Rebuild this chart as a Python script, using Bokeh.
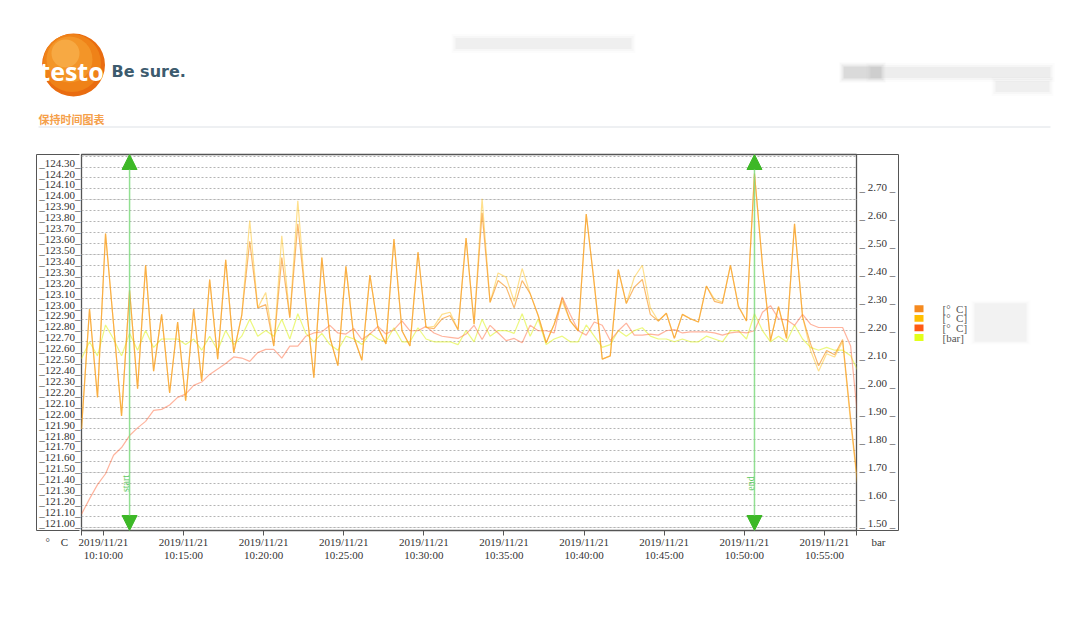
import math
import pandas as pd
from bokeh.plotting import figure
from bokeh.models import (Range1d, LinearAxis, FixedTicker, CustomJSTickFormatter, Grid,
                          Arrow, NormalHead, Label, ColumnDataSource)
from bokeh.layouts import column, row
from bokeh.embed import file_html
from bokeh.resources import INLINE
from bokeh.core.properties import value

# ---------------- data ----------------
times = pd.date_range("2019-11-21 10:08:38", periods=98, freq="30s")

temp_1 = [121.90, 123.00, 122.19, 123.69, 122.86, 122.02, 123.17, 122.27, 123.40, 122.43,
          122.95, 122.23, 122.88, 122.16, 123.00, 122.34, 123.27, 122.54, 123.45, 122.60,
          122.94, 123.62, 123.01, 123.04, 122.66, 123.47, 122.92, 123.78, 123.07, 122.37,
          123.47, 122.74, 122.48, 123.39, 122.74, 122.53, 123.31, 122.83, 122.68, 123.64,
          122.80, 122.66, 123.52, 122.83, 122.82, 122.91, 122.94, 122.81, 123.65, 122.86,
          123.88, 123.06, 123.26, 123.20, 123.01, 123.26, 123.14, 122.94, 122.69, 122.86,
          123.10, 122.89, 122.80, 123.87, 123.23, 122.54, 122.57, 123.36, 123.05, 123.20,
          123.27, 122.95, 122.89, 122.96, 122.73, 122.95, 122.91, 122.88, 123.21, 123.07,
          123.05, 123.40, 123.02, 122.89, 124.24, 123.40, 122.71, 123.02, 122.73, 123.78,
          122.93, 122.68, 122.48, 122.62, 122.58, 122.72, 122.00, 121.32]

temp_2 = [121.90, 123.00, 122.19, 123.69, 122.86, 122.02, 123.17, 122.27, 123.40, 122.43,
          122.95, 122.23, 122.88, 122.16, 123.00, 122.34, 123.27, 122.54, 123.45, 122.60,
          122.94, 123.81, 123.01, 123.15, 122.66, 123.67, 122.92, 123.99, 123.07, 122.37,
          123.47, 122.74, 122.48, 123.39, 122.74, 122.53, 123.31, 122.83, 122.68, 123.64,
          122.80, 122.66, 123.52, 122.83, 122.84, 122.95, 122.97, 122.81, 123.65, 122.86,
          124.01, 123.06, 123.33, 123.29, 123.07, 123.37, 123.14, 122.94, 122.69, 122.86,
          123.07, 122.89, 122.80, 123.87, 123.23, 122.54, 122.57, 123.36, 123.05, 123.29,
          123.40, 123.01, 122.89, 122.96, 122.73, 122.95, 122.91, 122.88, 123.21, 123.09,
          123.06, 123.40, 123.03, 122.89, 124.24, 123.40, 122.71, 123.02, 122.73, 123.78,
          122.93, 122.62, 122.43, 122.59, 122.56, 122.70, 121.96, 121.30]

temp_3 = [121.12, 121.26, 121.39, 121.49, 121.66, 121.73, 121.84, 121.91, 121.97, 122.07,
          122.08, 122.12, 122.19, 122.22, 122.30, 122.33, 122.40, 122.45, 122.50, 122.56,
          122.55, 122.52, 122.60, 122.63, 122.63, 122.55, 122.66, 122.66, 122.75, 122.78,
          122.79, 122.85, 122.78, 122.77, 122.82, 122.72, 122.77, 122.84, 122.77, 122.81,
          122.89, 122.80, 122.80, 122.84, 122.78, 122.75, 122.74, 122.73, 122.77, 122.85,
          122.72, 122.85, 122.78, 122.71, 122.73, 122.69, 122.85, 122.80, 122.80, 122.78,
          123.11, 122.95, 122.80, 122.76, 122.88, 122.85, 122.71, 122.80, 122.87, 122.76,
          122.76, 122.77, 122.76, 122.80, 122.81, 122.78, 122.79, 122.79, 122.79, 122.78,
          122.76, 122.78, 122.79, 122.78, 122.80, 122.97, 123.03, 122.91, 122.90, 122.85,
          122.95, 122.86, 122.83, 122.83, 122.83, 122.83, 122.66, 121.92]

pressure = [2.10, 2.16, 2.11, 2.22, 2.17, 2.11, 2.19, 2.13, 2.20, 2.14,
            2.17, 2.17, 2.17, 2.15, 2.17, 2.13, 2.18, 2.13, 2.20, 2.15,
            2.18, 2.24, 2.18, 2.20, 2.18, 2.24, 2.17, 2.26, 2.19, 2.16,
            2.19, 2.15, 2.13, 2.18, 2.17, 2.15, 2.19, 2.17, 2.16, 2.21,
            2.16, 2.16, 2.21, 2.17, 2.16, 2.16, 2.16, 2.15, 2.20, 2.16,
            2.24, 2.18, 2.20, 2.20, 2.19, 2.26, 2.18, 2.24, 2.15, 2.17,
            2.18, 2.16, 2.16, 2.22, 2.18, 2.14, 2.15, 2.20, 2.18, 2.20,
            2.21, 2.18, 2.17, 2.17, 2.16, 2.17, 2.16, 2.16, 2.18, 2.17,
            2.16, 2.20, 2.20, 2.17, 2.26, 2.20, 2.16, 2.18, 2.16, 2.22,
            2.17, 2.14, 2.13, 2.14, 2.13, 2.13, 2.11, 2.05]

left_ticks = [round(121.0 + 0.1 * k, 2) for k in range(34)]      # 121.00 .. 124.30
grid_ticks = [round(121.0 + 0.1 * k, 2) for k in range(35)]      # 121.00 .. 124.40
right_ticks = [round(1.5 + 0.1 * k, 2) for k in range(13)]       # 1.50 .. 2.70
x_tick_times = pd.date_range("2019-11-21 10:10:00", periods=10, freq="5min")
marker_idx = [6, 84]
marker_txt = ["start", "end"]
left_unit = "°\u00a0\u00a0\u00a0\u00a0C"
right_unit = "bar"

legend_colors = ["#F58A1F", "#FFBF00", "#FF5A14", "#E2FF1A"]
legend_labels = ["[°\u00a0\u00a0C]", "[°\u00a0\u00a0C]", "[°\u00a0\u00a0C]", "[bar]"]
section_title = "保持时间图表"

# ---------------- geometry helpers ----------------
T0 = times[0]
T_END = pd.Timestamp("2019-11-21 10:57:00")
t0_ms = T0.value / 1e6
tend_ms = T_END.value / 1e6
Y0, Y1 = 120.97, 124.415
B0, B1 = 1.4875, 2.8275
FW, FH = 775, 376
FL, FT = 81, 154   # frame left/top in page px


def px_y(py):
    return Y0 + (FT + FH - py) * (Y1 - Y0) / FH


LBL_SHIFT = 4.4 * (Y1 - Y0) / FH
BAR_SHIFT = 3.6 * (B1 - B0) / FH
SERIF = "Liberation Serif"
AX = "#555555"

# ---------------- chart ----------------
p = figure(frame_width=FW, frame_height=FH, x_axis_type="datetime",
           x_range=Range1d(T0, T_END), y_range=Range1d(Y0, Y1),
           y_axis_location=None, toolbar_location=None, output_backend="svg",
           min_border_left=81, min_border_right=49, min_border_top=14, min_border_bottom=100,
           background_fill_color="white", border_fill_color="white",
           outline_line_color=AX, outline_line_width=1.3)
p.xgrid.visible = False
p.extra_y_ranges = {
    "lbl": Range1d(Y0 - LBL_SHIFT, Y1 - LBL_SHIFT),
    "bar": Range1d(B0, B1),
    "barlbl": Range1d(B0 - BAR_SHIFT, B1 - BAR_SHIFT),
}

p.add_layout(Grid(dimension=1, ticker=FixedTicker(ticks=grid_ticks, minor_ticks=[]),
                  grid_line_color="#b4b4b4", grid_line_dash="2 2", grid_line_width=1), "center")

# left: tick labels (inner) + box line with corner ticks (outer)
la = LinearAxis(y_range_name="lbl", ticker=FixedTicker(ticks=left_ticks, minor_ticks=[]),
                formatter=CustomJSTickFormatter(code="return '_' + tick.toFixed(2) + '_';"),
                major_tick_out=0, major_tick_in=0, minor_tick_out=0, minor_tick_in=0,
                axis_line_color=None, major_label_standoff=1,
                major_label_text_font=SERIF, major_label_text_font_size="11px",
                major_label_text_color="#333333")
p.add_layout(la, "left")
lbox = LinearAxis(ticker=FixedTicker(ticks=[Y0, Y1], minor_ticks=[]),
                  formatter=CustomJSTickFormatter(code="return '';"),
                  major_tick_out=0, major_tick_in=43, minor_tick_out=0, minor_tick_in=0,
                  major_tick_line_color=AX, axis_line_color=AX, major_label_standoff=0,
                  major_label_text_font_size="1px")
p.add_layout(lbox, "left")

ra = LinearAxis(y_range_name="barlbl", ticker=FixedTicker(ticks=right_ticks, minor_ticks=[]),
                formatter=CustomJSTickFormatter(
                    code="return '_\u00a0' + tick.toFixed(2) + '\u00a0_';"),
                major_tick_out=0, major_tick_in=0, minor_tick_out=0, minor_tick_in=0,
                axis_line_color=None, major_label_standoff=3,
                major_label_text_font=SERIF, major_label_text_font_size="11px",
                major_label_text_color="#333333")
p.add_layout(ra, "right")
rbox = LinearAxis(ticker=FixedTicker(ticks=[Y0, Y1], minor_ticks=[]),
                  formatter=CustomJSTickFormatter(code="return '';"),
                  major_tick_out=0, major_tick_in=43, minor_tick_out=0, minor_tick_in=0,
                  major_tick_line_color=AX, axis_line_color=AX, major_label_standoff=0,
                  major_label_text_font_size="1px")
p.add_layout(rbox, "right")

xa = p.xaxis[0]
xa.ticker = FixedTicker(ticks=[t0_ms] + [t.value / 1e6 for t in x_tick_times] + [tend_ms],
                        minor_ticks=[])
pad_l = "\u00a0" * 18
pad_r = "\u00a0" * 16
xa.formatter = CustomJSTickFormatter(
    args=dict(t0=t0_ms, t1=tend_ms, lu=left_unit + pad_l, ru=pad_r + right_unit),
    code="""
if (Math.abs(tick - t0) < 1) { return lu; }
if (Math.abs(tick - t1) < 1) { return ru; }
const d = new Date(tick);
const f = (n) => String(n).padStart(2, '0');
return d.getUTCFullYear() + '/' + f(d.getUTCMonth() + 1) + '/' + f(d.getUTCDate()) + '\\n' +
       f(d.getUTCHours()) + ':' + f(d.getUTCMinutes()) + ':' + f(d.getUTCSeconds());
""")
xa.major_tick_out = 5
xa.major_tick_in = 0
xa.minor_tick_out = 0
xa.minor_tick_in = 0
xa.axis_line_color = AX
xa.major_tick_line_color = AX
xa.major_label_standoff = 0
xa.major_label_text_font = SERIF
xa.major_label_text_font_size = "11px"
xa.major_label_text_line_height = 1.1
xa.major_label_text_color = "#333333"

src = ColumnDataSource(dict(t=times, a=temp_1, b=temp_2, c=temp_3, d=pressure))
p.line("t", "d", source=src, y_range_name="bar", line_color="#E2F53A", line_alpha=0.65, line_width=1.2)
p.line("t", "c", source=src, line_color="#FF6A3D", line_alpha=0.5, line_width=1.2)
p.line("t", "b", source=src, line_color="#FFC21A", line_alpha=0.5, line_width=1.2)
p.line("t", "a", source=src, line_color="#F7931E", line_alpha=0.65, line_width=1.2)

for idx, txt in zip(marker_idx, marker_txt):
    tx = times[idx].value / 1e6
    p.add_layout(Arrow(start=NormalHead(size=15, fill_color="#3DB827", line_color="#3DB827"),
                       end=NormalHead(size=15, fill_color="#3DB827", line_color="#3DB827"),
                       x_start=tx, y_start=Y0, x_end=tx, y_end=Y1,
                       line_color="#7FDB7F", line_width=1.5, line_alpha=0.85))
    p.add_layout(Label(x=tx, y=px_y(483), text=txt, angle=math.pi / 2, x_offset=-4,
                       text_align="center", text_baseline="middle",
                       text_font=SERIF, text_font_size="10px", text_color="#5CC85C"))

# ---------------- header ----------------
h = figure(width=1080, height=140, x_range=Range1d(0, 1080), y_range=Range1d(140, 0),
           toolbar_location=None, output_backend="svg", min_border=0,
           outline_line_color=None, x_axis_location=None, y_axis_location=None)
h.grid.visible = False


def blur(fig, cx, cy, w, hgt, color="#9a9a9a", a=0.10):
    for k, al in [(8, a * 0.35), (4, a * 0.6), (0, a)]:
        fig.rect(x=[cx], y=[cy], width=[w + k], height=[hgt + k], fill_color=color,
                 fill_alpha=al, line_color=None)


h.circle(x=[73], y=[64.5], radius=31.5, fill_color="#E96C10", line_color=None)
h.circle(x=[71.5], y=[62.5], radius=29, fill_color="#EF8218", line_color=None)
h.circle(x=[69], y=[59], radius=23, fill_color="#F49A2D", line_color=None, fill_alpha=0.8)
h.circle(x=[65], y=[53], radius=14, fill_color="#F9B95A", line_color=None, fill_alpha=0.55)
h.text(x=[71], y=[70], text=["testo"], text_font=value("Open Sans"), text_font_style="bold",
       text_font_size="25px", text_color="white", text_align="center", text_baseline="alphabetic")
h.text(x=[111], y=[71], text=["Be sure."], text_font=value("DejaVu Sans"), text_font_style="bold",
       text_font_size="16px", text_color="#3D5B6E", text_align="left", text_baseline="alphabetic")
h.text(x=[38], y=[118], text=[section_title], text_font=value("Noto Sans CJK SC"),
       text_font_style="bold", text_font_size="11px", text_color="#F5A04A",
       text_align="left", text_baseline="middle")
h.line(x=[38, 1050], y=[126.5, 126.5], line_color="#dde1e6", line_width=1)
blur(h, 543, 43, 176, 11, a=0.08)
blur(h, 862, 72, 38, 12, color="#777777", a=0.15)
blur(h, 960, 72, 180, 11, a=0.09)
blur(h, 1022, 86, 54, 11, a=0.08)

# ---------------- legend ----------------
lg = figure(width=175, height=490, x_range=Range1d(905, 1080), y_range=Range1d(630, 140),
            toolbar_location=None, output_backend="svg", min_border=0,
            outline_line_color=None, x_axis_location=None, y_axis_location=None)
lg.grid.visible = False
ly = [341, 353.5, 366, 378.5]
lg.rect(x=[918.5] * 4, y=ly, width=9, height=9, fill_color=legend_colors, line_color=None)
lg.text(x=[942] * 4, y=ly, text=legend_labels, text_font=value(SERIF), text_font_size="11px",
        text_color="#555555", text_align="left", text_baseline="middle")
blur(lg, 1000, 359, 52, 50, a=0.07)

layout = column(h, row(p, lg))
open("out.html", "w").write(file_html(layout, INLINE))
